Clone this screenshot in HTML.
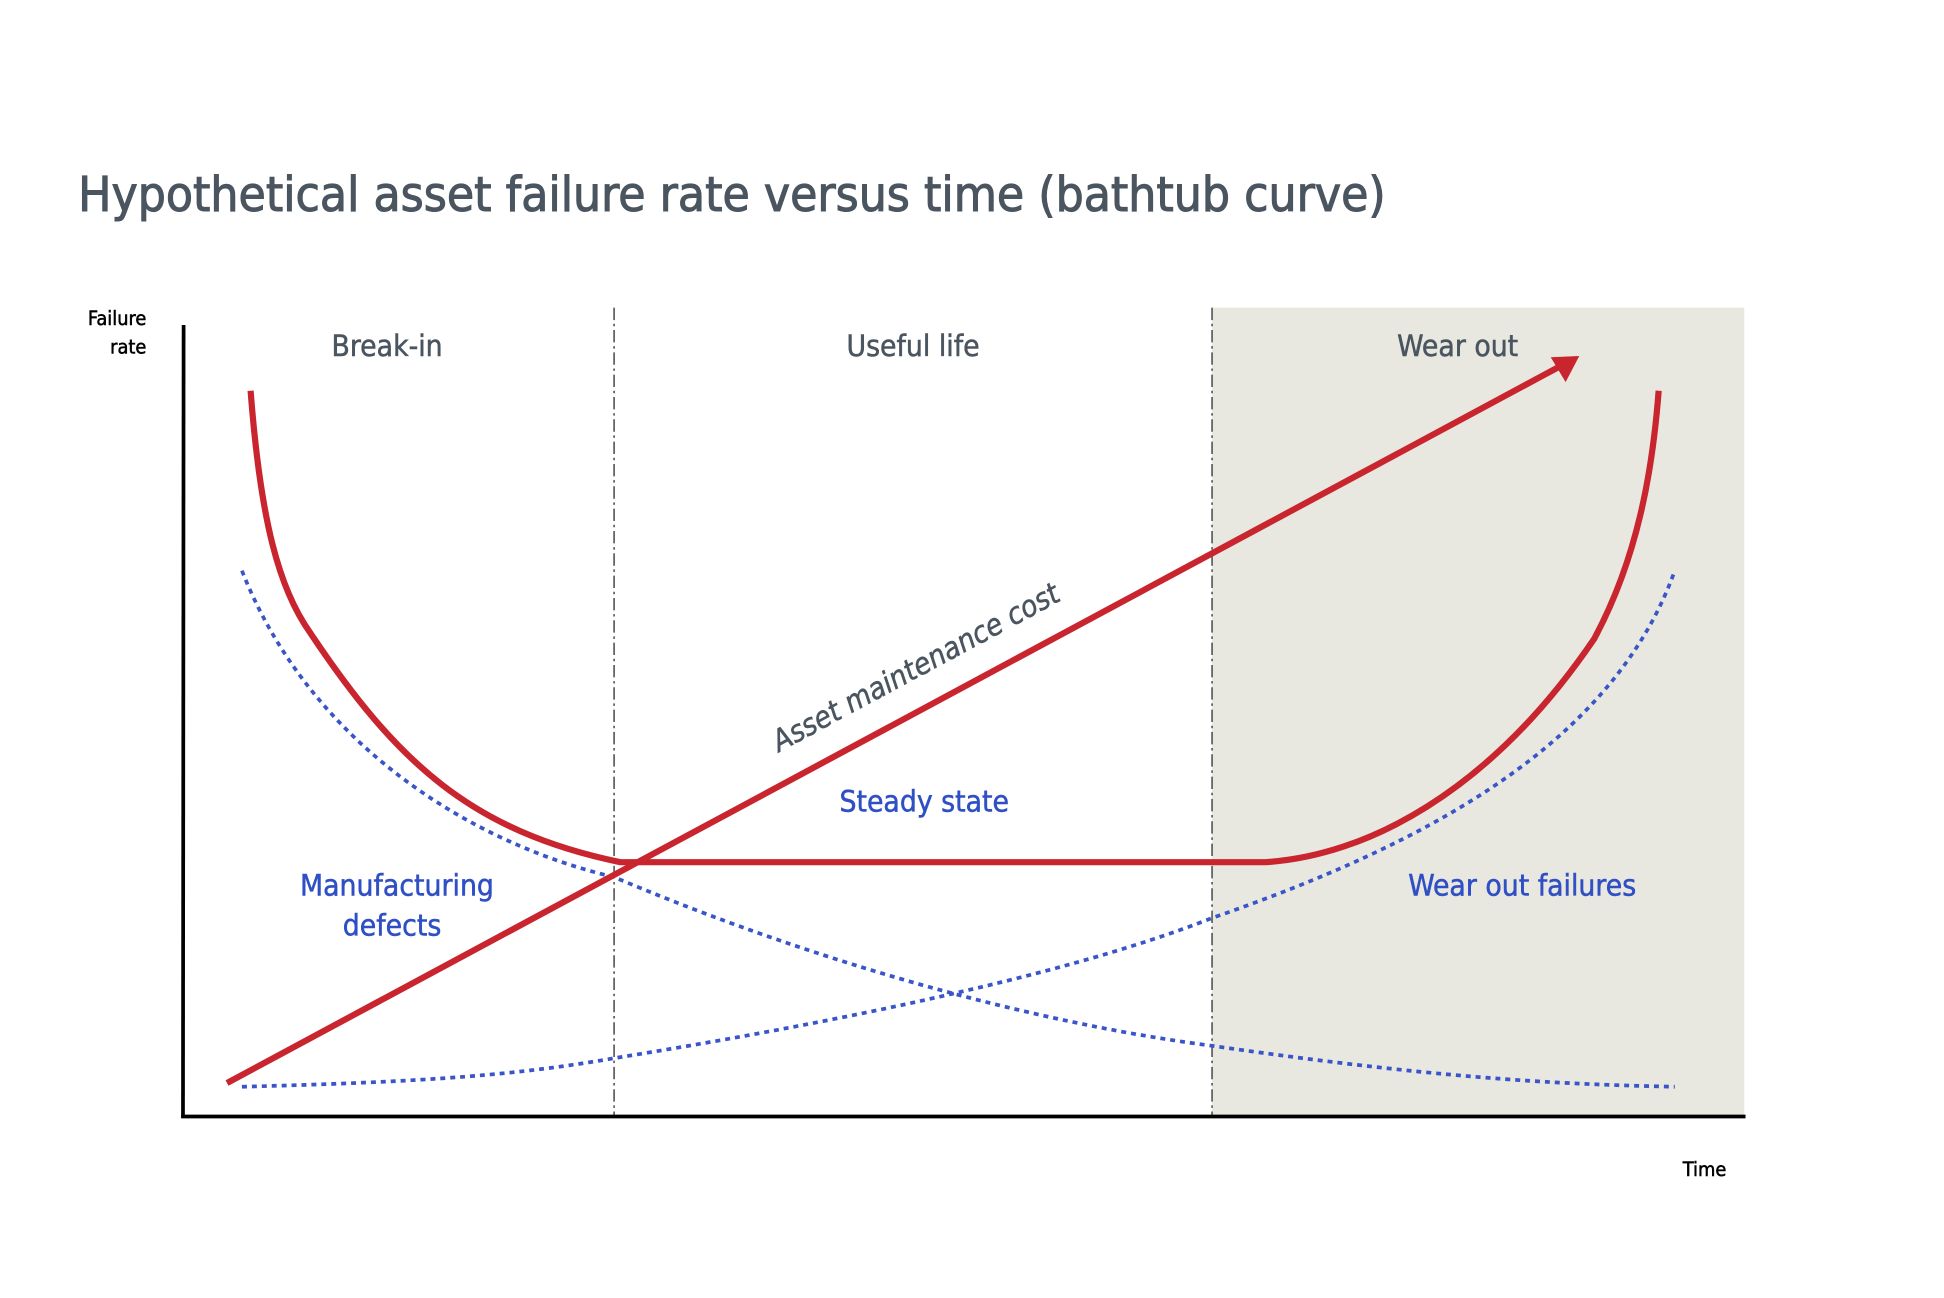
<!DOCTYPE html>
<html><head><meta charset="utf-8"><style>
html,body{margin:0;padding:0;background:#fff;}
svg{display:block;}
text{font-family:"DejaVu Sans Condensed","Liberation Sans",sans-serif;}
</style></head><body>
<svg width="1944" height="1298" viewBox="0 0 1567 1046.3" preserveAspectRatio="none" xmlns="http://www.w3.org/2000/svg">
<rect width="1567" height="1047" fill="#fff"/>
<text x="63" y="170" font-size="39" fill="#4a5560" stroke="#4a5560" stroke-width="0.8" textLength="1054" lengthAdjust="spacingAndGlyphs">Hypothetical asset failure rate versus time (bathtub curve)</text>
<rect x="977" y="248" width="429" height="652" fill="#e9e8e0"/>
<line x1="495" y1="248" x2="495" y2="900" stroke="#555" stroke-width="1.3" stroke-dasharray="10 3 2 3"/>
<line x1="977" y1="248" x2="977" y2="900" stroke="#555" stroke-width="1.3" stroke-dasharray="10 3 2 3"/>
<line x1="148" y1="262" x2="147.5" y2="901" stroke="#000" stroke-width="3"/>
<line x1="146" y1="900" x2="1407" y2="900" stroke="#000" stroke-width="3"/>
<text x="118" y="262" font-size="16" stroke="#000" stroke-width="0.4" text-anchor="end" fill="#000">Failure</text>
<text x="118" y="285" font-size="16" stroke="#000" stroke-width="0.4" text-anchor="end" fill="#000">rate</text>
<text x="1374" y="948" font-size="16" stroke="#000" stroke-width="0.4" text-anchor="middle" fill="#000">Time</text>
<text x="312" y="287" font-size="24" stroke="#4a5560" stroke-width="0.4" text-anchor="middle" fill="#4a5560">Break-in</text>
<text x="736" y="287" font-size="24" stroke="#4a5560" stroke-width="0.4" text-anchor="middle" fill="#4a5560">Useful life</text>
<text x="1175" y="287" font-size="24" stroke="#4a5560" stroke-width="0.4" text-anchor="middle" fill="#4a5560">Wear out</text>
<path d="M195,460 C250,600 380,680 495,707 C620,760 800,820 977,843 C1150,868 1250,874 1350,876" fill="none" stroke="#3a55c8" stroke-width="3" stroke-dasharray="4 4"/>
<path d="M195,876 C350,872 420,866 495,853 C650,828 850,790 977,740 C1150,680 1300,600 1350,460" fill="none" stroke="#3a55c8" stroke-width="3" stroke-dasharray="4 4"/>
<path d="M202,315 C210,420 225,475 250,510 C320,615 380,670 500,695 L1020,695 C1100,690 1200,640 1285,515 C1320,450 1332,380 1337,315" fill="none" stroke="#c9252f" stroke-width="5"/>
<line x1="183" y1="873" x2="1258" y2="295" stroke="#c9252f" stroke-width="5"/>
<polygon points="1273,287 1250,288 1262,308" fill="#c9252f"/>
<text transform="translate(742,545) rotate(-28.3)" font-size="24" font-style="italic" stroke="#4a5560" stroke-width="0.4" text-anchor="middle" fill="#4a5560">Asset maintenance cost</text>
<text x="745" y="654" font-size="24" stroke="#2f4fc4" stroke-width="0.4" text-anchor="middle" fill="#2f4fc4">Steady state</text>
<text x="320" y="722" font-size="24" stroke="#2f4fc4" stroke-width="0.4" text-anchor="middle" fill="#2f4fc4">Manufacturing</text>
<text x="316" y="754" font-size="24" stroke="#2f4fc4" stroke-width="0.4" text-anchor="middle" fill="#2f4fc4">defects</text>
<text x="1227" y="722" font-size="24" stroke="#2f4fc4" stroke-width="0.4" text-anchor="middle" fill="#2f4fc4">Wear out failures</text>
</svg>
</body></html>
